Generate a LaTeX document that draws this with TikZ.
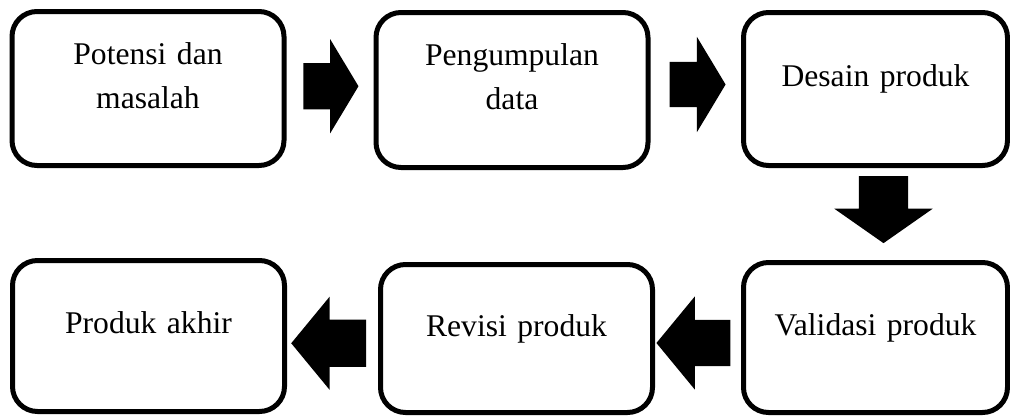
\documentclass[tikz,border=0pt]{standalone}
\usepackage{fontspec}
\setmainfont{Liberation Serif}
\usetikzlibrary{shapes.arrows,calc}
\tikzset{stage/.style={draw, line width=5pt, rounded corners=25pt, minimum width=272pt, minimum height=153pt, text width=260pt, align=center, inner sep=0pt, font=\fontsize{31.6}{44}\selectfont, execute at begin node={\rule{0pt}{23pt}}, execute at end node={\rule[-28pt]{0pt}{28pt}}}}
\tikzset{narrowstage/.style={stage, minimum width=264pt}}
\tikzset{blockarrow/.style={single arrow, fill=black, inner xsep=0pt, inner ysep=23pt, single arrow head extend=24pt, single arrow tip angle=#1}}
\tikzset{blockarrow/.default=110}

\begin{document}
\begin{tikzpicture}[x=1pt,y=-1pt]
%research and development steps, read left to right on top and right to left below
\useasboundingbox (0,0) rectangle (1010,416);
\node (b1) at (148,88.5)[stage, minimum height=154pt]{Potensi dan\\masalah};
\node (b2) at (512,90)[stage, minimum height=155pt]{Pengumpulan\\data};
\node (b3) at (875.5,89)[narrowstage]{Desain produk};
\node (b4) at (148.5,336)[stage, minimum height=151pt]{Produk akhir};
\node (b5) at (516.5,338.5)[stage, minimum height=148pt]{Revisi produk};
\node (b6) at (875.5,337.5)[narrowstage, minimum height=150pt]{Validasi produk};
\node (r1) at ($(b1.east)!.5!(b2.west)$)[blockarrow=118, minimum height=55pt, yshift=3pt, xshift=-6pt]{};
\node (r2) at ($(b2.east)!.5!(b3.west)$)[blockarrow=118, inner ysep=22.5pt, single arrow head extend=25pt, minimum height=56pt, yshift=5pt, xshift=-5pt]{};
\node (r3) at ($(b3.south)!.5!(b6.north)$)[blockarrow=110, shape border rotate=270, inner xsep=24.5pt, inner ysep=0pt, single arrow head extend=24.5pt, minimum height=67pt, yshift=13pt, xshift=8pt]{};
\node (r4) at ($(b6.west)!.5!(b5.east)$)[blockarrow=101, shape border rotate=180, single arrow head extend=23.5pt, minimum height=74pt, yshift=-5pt, xshift=5pt]{};
\node (r5) at ($(b5.west)!.5!(b4.east)$)[blockarrow=101, shape border rotate=180, inner ysep=23.5pt, single arrow head extend=23pt, minimum height=75pt, yshift=-6pt, xshift=6pt]{};
\end{tikzpicture}
\end{document}
